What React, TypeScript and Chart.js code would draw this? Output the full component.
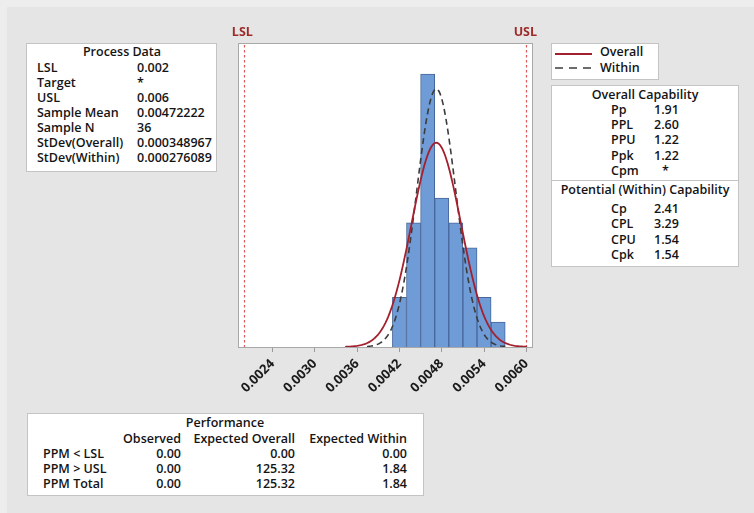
import React, { useEffect, useRef } from 'react';
import { Chart, registerables } from 'chart.js';

Chart.register(...registerables);

// ---------- data ----------
const BIN_STARTS = [0.0041, 0.0043, 0.0045, 0.0047, 0.0049, 0.0051, 0.0053, 0.0055];
const BIN_COUNTS = [2, 5, 11, 6, 5, 4, 2, 1];
const BIN_WIDTH = 0.0002;
const X_TICKS = [0.0024, 0.003, 0.0036, 0.0042, 0.0048, 0.0054, 0.006];
const LSL = 0.002;
const USL = 0.006;
const MEAN = 0.00472222;
const N = 36;
const SD_OVERALL = 0.000348967;
const SD_WITHIN = 0.000276089;
const OVERALL_RANGE = [0.00343, 0.00601];
const WITHIN_RANGE = [0.00374, 0.0057];

const PROCESS_LABELS = ['LSL', 'Target', 'USL', 'Sample Mean', 'Sample N', 'StDev(Overall)', 'StDev(Within)'];
const PROCESS_VALUES = ['0.002', '*', '0.006', '0.00472222', '36', '0.000348967', '0.000276089'];

const OVERALL_CAP_LABELS = ['Pp', 'PPL', 'PPU', 'Ppk', 'Cpm'];
const OVERALL_CAP_VALUES = ['1.91', '2.60', '1.22', '1.22', '*'];
const WITHIN_CAP_LABELS = ['Cp', 'CPL', 'CPU', 'Cpk'];
const WITHIN_CAP_VALUES = ['2.41', '3.29', '1.54', '1.54'];

const PERF_COLUMNS = ['Observed', 'Expected Overall', 'Expected Within'];
const PERF_ROWS = ['PPM < LSL', 'PPM > USL', 'PPM Total'];
const PERF_OBSERVED = ['0.00', '0.00', '0.00'];
const PERF_EXP_OVERALL = ['0.00', '125.32', '125.32'];
const PERF_EXP_WITHIN = ['0.00', '1.84', '1.84'];

// ---------- styles ----------
const FONT = '"Open Sans", "Noto Sans", sans-serif';
const TEXT = '#141414';
const RED = '#a3202e';
const DASH = '#3c3c3c';

function normalCurve(mean: number, sd: number, range: number[]) {
  const pts: { x: number; y: number }[] = [];
  const steps = 140;
  for (let i = 0; i <= steps; i++) {
    const x = range[0] + ((range[1] - range[0]) * i) / steps;
    const z = (x - mean) / sd;
    const y = (N * BIN_WIDTH * Math.exp(-0.5 * z * z)) / (sd * Math.sqrt(2 * Math.PI));
    pts.push({ x, y });
  }
  return pts;
}

const CANVAS_LEFT = 200;
const CANVAS_TOP = 0;
const CANVAS_W = 380;
const CANVAS_H = 420;

const T = ({ x, y, text, align = 'left', color = TEXT }: any) => {
  const tx = align === 'right' ? '-100%' : align === 'center' ? '-50%' : '0';
  return (
    <div
      style={{
        position: 'absolute',
        left: x,
        top: y - 8,
        lineHeight: '16px',
        height: 16,
        whiteSpace: 'nowrap',
        transform: `translateX(${tx})`,
        fontFamily: FONT,
        fontWeight: 600,
        fontSize: 12.5,
        color,
      }}
    >
      {text}
    </div>
  );
};

const Box = ({ x, y, w, h }: any) => (
  <div
    style={{
      position: 'absolute',
      left: x,
      top: y,
      width: w,
      height: h,
      boxSizing: 'border-box',
      background: '#ffffff',
      border: '1px solid #c4c4c4',
    }}
  />
);

export default function App() {
  const canvasRef = useRef<HTMLCanvasElement | null>(null);

  useEffect(() => {
    if (!canvasRef.current) return;
    const framePlugin = {
      id: 'framePlugin',
      beforeDatasetsDraw(chart: any) {
        const { ctx, chartArea } = chart;
        const xs = chart.scales.x;
        ctx.save();
        ctx.fillStyle = '#ffffff';
        ctx.fillRect(chartArea.left, chartArea.top, chartArea.right - chartArea.left, chartArea.bottom - chartArea.top);
        ctx.strokeStyle = '#de5a5a';
        ctx.lineWidth = 1.2;
        ctx.setLineDash([2.5, 2.5]);
        [LSL, USL].forEach((v) => {
          const px = Math.round(xs.getPixelForValue(v)) + 0.5;
          ctx.beginPath();
          ctx.moveTo(px, chartArea.top + 2);
          ctx.lineTo(px, chartArea.bottom);
          ctx.stroke();
        });
        ctx.restore();
      },
      afterDraw(chart: any) {
        const { ctx, chartArea } = chart;
        const xs = chart.scales.x;
        ctx.save();
        ctx.strokeStyle = '#a8a8a8';
        ctx.lineWidth = 1;
        ctx.strokeRect(
          Math.round(chartArea.left) + 0.5,
          Math.round(chartArea.top) + 0.5,
          Math.round(chartArea.right - chartArea.left),
          Math.round(chartArea.bottom - chartArea.top)
        );
        ctx.fillStyle = '#9e2a2a';
        ctx.font = `700 12.5px ${FONT}`;
        ctx.textAlign = 'center';
        ctx.textBaseline = 'middle';
        ctx.fillText('LSL', xs.getPixelForValue(LSL) - 2, 32);
        ctx.fillText('USL', xs.getPixelForValue(USL) - 1, 32);
        ctx.restore();
      },
    };

    const chart = new Chart(canvasRef.current, {
      type: 'bar',
      data: {
        datasets: [
          {
            type: 'line',
            data: normalCurve(MEAN, SD_OVERALL, OVERALL_RANGE),
            borderColor: RED,
            borderWidth: 1.8,
            pointRadius: 0,
            tension: 0,
            order: 1,
          } as any,
          {
            type: 'line',
            data: normalCurve(MEAN, SD_WITHIN, WITHIN_RANGE),
            borderColor: DASH,
            borderWidth: 1.6,
            borderDash: [6, 4],
            pointRadius: 0,
            tension: 0,
            order: 2,
          } as any,
          {
            type: 'bar',
            data: BIN_STARTS.map((s, i) => ({ x: s + BIN_WIDTH / 2, y: BIN_COUNTS[i] })),
            backgroundColor: '#6f9bd7',
            borderColor: '#47679b',
            borderWidth: 1,
            barPercentage: 1,
            categoryPercentage: 1,
            order: 3,
          } as any,
        ],
      },
      options: {
        animation: false,
        responsive: false,
        maintainAspectRatio: false,
        layout: { padding: { left: 38, right: 48, top: 43, bottom: 13 } },
        plugins: { legend: { display: false }, tooltip: { enabled: false } },
        scales: {
          x: {
            type: 'linear',
            min: 0.00191,
            max: 0.00608,
            offset: false,
            afterBuildTicks: (s: any) => {
              s.ticks = X_TICKS.map((v) => ({ value: v }));
            },
            afterFit: (s: any) => {
              s.height = 60;
              s.paddingLeft = 0;
              s.paddingRight = 0;
            },
            ticks: {
              autoSkip: false,
              minRotation: 45,
              maxRotation: 45,
              padding: 4,
              color: '#1a1a1a',
              font: { family: FONT, weight: '700', size: 13 },
              callback: (v: any) => Number(v).toFixed(4),
            },
            grid: {
              display: true,
              offset: false,
              drawOnChartArea: false,
              drawTicks: true,
              tickLength: 5,
              color: '#9a9a9a',
            },
            border: { display: false },
          },
          y: { display: false, min: 0, max: 12.25 },
        },
      } as any,
      plugins: [framePlugin],
    });
    return () => chart.destroy();
  }, []);

  const rowY = (start: number, step: number, i: number) => start + step * i;

  return (
    <div style={{ position: 'absolute', left: 0, top: 0, width: 754, height: 513, background: '#ededed', overflow: 'hidden' }}>
      <div style={{ position: 'absolute', left: 7, top: 7, width: 747, height: 506, background: '#e5e5e5' }} />

      {/* Process Data */}
      <Box x={26} y={43} w={191} h={129} />
      <T x={122} y={52} text="Process Data" align="center" />
      {PROCESS_LABELS.map((l, i) => (
        <T key={'pl' + i} x={37} y={rowY(68, 15, i)} text={l} />
      ))}
      {PROCESS_VALUES.map((v, i) => (
        <T key={'pv' + i} x={137} y={rowY(68, 15, i)} text={v} />
      ))}

      {/* Legend */}
      <Box x={551} y={43} w={108} h={37} />
      <svg style={{ position: 'absolute', left: 551, top: 43 }} width={108} height={37}>
        <line x1={4} y1={11} x2={41} y2={11} stroke={RED} strokeWidth={2} />
        <line x1={4} y1={25} x2={40} y2={25} stroke={DASH} strokeWidth={1.5} strokeDasharray="8,6" />
      </svg>
      <T x={600} y={52} text="Overall" />
      <T x={600} y={68} text="Within" />

      {/* Capability */}
      <Box x={551} y={85} w={188} h={182} />
      <div style={{ position: 'absolute', left: 551, top: 180, width: 188, height: 1, background: '#c4c4c4' }} />
      <T x={645} y={95} text="Overall Capability" align="center" />
      {OVERALL_CAP_LABELS.map((l, i) => (
        <T key={'ol' + i} x={611} y={rowY(109.5, 15.4, i)} text={l} />
      ))}
      {OVERALL_CAP_VALUES.map((v, i) => (
        <T key={'ov' + i} x={v === '*' ? 662 : 654} y={rowY(109.5, 15.4, i)} text={v} />
      ))}
      <T x={645} y={190} text="Potential (Within) Capability" align="center" />
      {WITHIN_CAP_LABELS.map((l, i) => (
        <T key={'wl' + i} x={611} y={rowY(209, 15.4, i)} text={l} />
      ))}
      {WITHIN_CAP_VALUES.map((v, i) => (
        <T key={'wv' + i} x={654} y={rowY(209, 15.4, i)} text={v} />
      ))}

      {/* Performance */}
      <Box x={27} y={413} w={397} h={83} />
      <T x={225} y={423} text="Performance" align="center" />
      {PERF_COLUMNS.map((c, i) => (
        <T key={'pc' + i} x={[181, 295, 407][i]} y={438.5} text={c} align="right" />
      ))}
      {PERF_ROWS.map((r, i) => (
        <React.Fragment key={'pr' + i}>
          <T x={43} y={rowY(454, 15, i)} text={r} />
          <T x={181} y={rowY(454, 15, i)} text={PERF_OBSERVED[i]} align="right" />
          <T x={295} y={rowY(454, 15, i)} text={PERF_EXP_OVERALL[i]} align="right" />
          <T x={407} y={rowY(454, 15, i)} text={PERF_EXP_WITHIN[i]} align="right" />
        </React.Fragment>
      ))}

      <canvas
        ref={canvasRef}
        width={CANVAS_W}
        height={CANVAS_H}
        style={{ position: 'absolute', left: CANVAS_LEFT, top: CANVAS_TOP, width: CANVAS_W, height: CANVAS_H }}
      />
    </div>
  );
}
